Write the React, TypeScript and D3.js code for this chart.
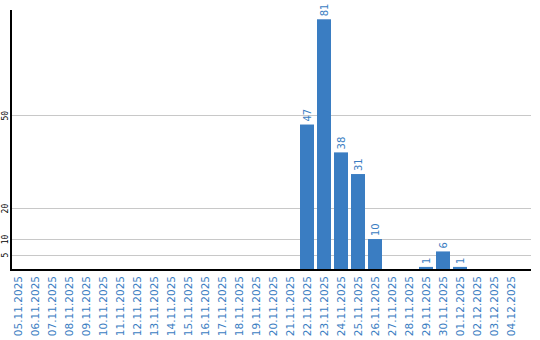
import React from "react";
import * as d3 from "d3";

const dates = [
  "05.11.2025","06.11.2025","07.11.2025","08.11.2025","09.11.2025","10.11.2025",
  "11.11.2025","12.11.2025","13.11.2025","14.11.2025","15.11.2025","16.11.2025",
  "17.11.2025","18.11.2025","19.11.2025","20.11.2025","21.11.2025","22.11.2025",
  "23.11.2025","24.11.2025","25.11.2025","26.11.2025","27.11.2025","28.11.2025",
  "29.11.2025","30.11.2025","01.12.2025","02.12.2025","03.12.2025","04.12.2025",
];
const values = [
  0,0,0,0,0,0,0,0,0,0,0,0,0,0,0,0,0,47,81,38,31,10,0,0,1,6,1,0,0,0,
];
const yTicks = [5, 10, 20, 50];

const W = 540, H = 340;
const BLUE = "#3a7dc2";

export default function App() {
  const x = d3.scaleBand<string>().domain(dates).range([9.5, 519.5]).paddingInner(3 / 17).paddingOuter(1.5 / 17);
  const y = d3.scaleLinear().domain([0, 84]).range([270, 10]);
  const font = "'DejaVu Sans', Verdana, sans-serif";
  return (
    <svg width={W} height={H} style={{ position: "absolute", left: 0, top: 0 }}>
      {yTicks.map((t) => (
        <g key={t}>
          <line x1={11} x2={531} y1={Math.round(y(t)) + 0.5} y2={Math.round(y(t)) + 0.5} stroke="#c8c8c8" strokeWidth={1} />
          <text transform={`translate(7.5,${y(t) + 0.5}) rotate(-90)`} textAnchor="middle" fontSize={8} fontFamily="'DejaVu Sans Mono', monospace" fill="#000">{t}</text>
        </g>
      ))}
      {dates.map((d, i) => {
        const v = values[i];
        const bx = x(d)!;
        const cx = bx + x.bandwidth() / 2;
        return (
          <g key={d}>
            {v > 0 && (
              <>
                <rect x={bx} y={y(v)} width={x.bandwidth()} height={270 - y(v)} fill={BLUE} />
                <text transform={`translate(${cx + 4},${y(v) - 3}) rotate(-90)`} textAnchor="start" fontSize={10} fontFamily={font} fill={BLUE}>{v}</text>
              </>
            )}
            <text transform={`translate(${cx + 3.5},276) rotate(-90)`} textAnchor="end" fontSize={10.5} fontFamily={font} fill={BLUE}>{d}</text>
          </g>
        );
      })}
      <line x1={11} x2={11} y1={10} y2={271} stroke="#000" strokeWidth={2} />
      <line x1={10} x2={531} y1={270} y2={270} stroke="#000" strokeWidth={2} />
    </svg>
  );
}
